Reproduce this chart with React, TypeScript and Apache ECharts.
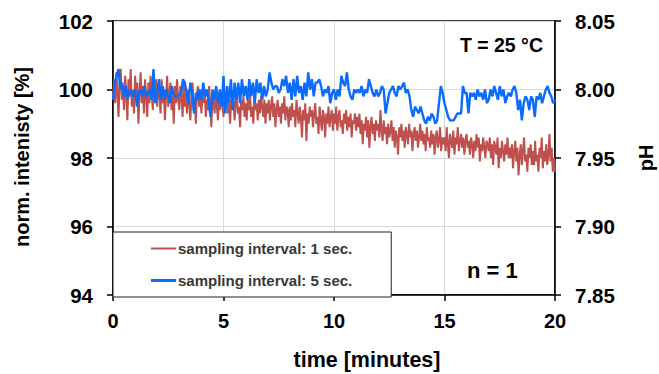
import React, { useEffect, useRef } from "react";
import * as echarts from "echarts";

// time axis (minutes)
const xTicks = [0, 5, 10, 15, 20];
const leftTicks = [94, 96, 98, 100, 102];
const rightTicks = [7.85, 7.9, 7.95, 8.0, 8.05];

// sampling interval 1 sec. (plotted every 3 s), normalized intensity [%]
const redStepSec = 3;
const redValues = [
  99.8, 100.3, 99.6, 100.5, 99.9, 99.2, 100.2, 100.6, 99.7, 100.1, 99.4, 100.4, 99.9, 99.1, 100.3, 99.8, 100.6, 99.5, 100.0, 99.3,
  100.4, 99.7, 100.2, 99.0, 99.9, 100.5, 99.6, 100.1, 99.3, 100.3, 99.8, 99.2, 100.2, 99.6, 100.4, 99.9, 99.4, 100.1, 99.7, 100.3,
  99.5, 100.2, 99.9, 99.3, 100.3, 99.6, 100.0, 99.1, 99.8, 100.4, 99.5, 99.9, 100.2, 99.4, 99.8, 99.0, 100.1, 99.6, 100.3, 99.7,
  99.4, 100.1, 99.8, 99.2, 100.2, 99.5, 99.9, 99.3, 100.0, 99.6, 99.1, 99.8, 100.2, 99.4, 99.7, 99.0, 99.9, 100.1, 99.5, 99.8,
  99.3, 99.9, 99.6, 100.0, 99.2, 99.7, 99.4, 100.1, 99.5, 98.9, 99.8, 99.6, 99.3, 100.0, 99.5, 99.1, 99.8, 99.4, 99.9, 99.6,
  99.2, 99.8, 99.5, 99.9, 99.3, 99.6, 99.0, 99.7, 99.4, 99.8, 99.1, 99.6, 99.9, 99.3, 99.5, 98.9, 99.7, 99.4, 99.8, 99.2,
  99.6, 99.1, 99.7, 99.4, 99.9, 99.2, 99.5, 99.0, 99.8, 99.4, 99.6, 99.1, 99.7, 99.3, 99.8, 99.5, 99.2, 99.7, 99.0, 99.6,
  99.3, 99.7, 99.1, 99.5, 99.8, 99.2, 99.6, 98.9, 99.4, 99.7, 99.2, 99.5, 99.0, 99.6, 99.3, 99.8, 99.1, 99.5, 99.4, 98.9,
  99.5, 99.1, 99.6, 99.2, 99.4, 98.9, 99.7, 99.3, 99.0, 99.5, 99.2, 98.6, 99.4, 99.1, 99.6, 98.5, 99.3, 99.0, 99.5, 99.2,
  99.4, 98.9, 99.3, 99.6, 99.0, 99.2, 98.7, 99.5, 99.1, 98.8, 99.4, 99.2, 98.6, 99.3, 99.0, 99.5, 98.9, 99.2, 99.4, 98.8,
  99.3, 99.0, 99.5, 98.8, 99.2, 99.4, 98.9, 99.1, 98.7, 99.3, 99.0, 99.4, 98.8, 99.2, 98.9, 99.3, 98.6, 99.1, 99.0, 99.3,
  98.8, 99.2, 98.9, 99.3, 98.7, 99.1, 98.4, 99.0, 98.8, 99.2, 98.6, 99.1, 98.3, 98.9, 99.2, 98.7, 99.0, 98.5, 99.1, 98.8,
  99.0, 98.6, 99.4, 98.8, 98.5, 99.1, 98.7, 98.9, 98.4, 99.0, 98.6, 98.8, 99.1, 98.5, 98.9, 98.3, 98.8, 98.6, 98.1, 98.9,
  98.6, 99.0, 98.5, 98.8, 98.3, 98.9, 98.7, 98.4, 99.0, 98.6, 98.8, 98.2, 98.7, 98.9, 98.5, 98.8, 98.3, 98.6, 99.0, 98.5,
  98.8, 98.4, 98.7, 98.2, 98.9, 98.5, 98.6, 98.3, 98.8, 98.4, 98.7, 98.1, 98.6, 98.8, 98.3, 98.5, 98.9, 98.2, 98.6, 98.4,
  98.6, 98.2, 98.9, 98.4, 98.0, 98.7, 98.5, 98.3, 98.8, 98.1, 98.6, 98.4, 98.9, 98.2, 98.5, 98.7, 98.3, 98.6, 98.1, 98.5,
  98.7, 98.3, 98.5, 98.1, 98.6, 98.4, 98.0, 98.5, 98.2, 98.7, 98.3, 98.6, 97.9, 98.4, 98.2, 98.6, 98.3, 98.0, 98.5, 98.4,
  98.2, 98.6, 98.0, 98.4, 97.8, 98.5, 98.3, 98.1, 98.6, 97.7, 98.3, 98.0, 98.5, 98.2, 97.9, 98.4, 98.1, 98.6, 98.0, 98.3,
  98.0, 98.4, 97.7, 98.2, 98.5, 97.9, 98.3, 97.5, 98.1, 98.4, 97.8, 98.2, 98.6, 97.9, 98.1, 97.6, 98.3, 98.0, 98.4, 97.8,
  98.2, 97.8, 98.5, 97.9, 98.1, 97.6, 98.3, 98.0, 98.6, 97.7, 98.2, 97.9, 98.4, 97.8, 98.1, 98.7, 97.9, 98.3, 97.6, 98.0,
  97.6,
];

// sampling interval 5 sec., normalized intensity [%]
const blueStepSec = 5;
const blueValues = [
  99.7, 100.2, 100.4, 100.6, 100.0, 100.2, 99.8, 100.1, 99.7, 100.0, 99.9, 99.8,
  100.0, 99.5, 99.9, 100.0, 99.8, 100.1, 99.8, 99.9, 100.0, 99.7, 100.6, 99.6,
  99.9, 100.3, 99.7, 100.1, 99.7, 100.0, 99.8, 99.6, 100.1, 99.8, 99.8, 99.8,
  99.85, 99.9, 100.3, 100.2, 99.9, 99.6, 100.2, 99.9, 99.3, 99.9, 99.7, 100.0,
  99.7, 100.2, 99.8, 100.0, 99.6, 99.2, 100.0, 99.7, 100.1, 99.6, 100.0, 99.5,
  100.4, 99.3, 100.1, 99.6, 100.3, 99.4, 100.2, 99.7, 100.2, 99.6, 100.3, 99.8,
  100.1, 99.7, 100.3, 99.8, 100.2, 99.6, 100.3, 99.9, 100.2, 99.7, 100.1, 99.8,
  100.0, 100.5, 100.2, 100.0, 100.1, 100.1, 99.9, 100.0, 100.3, 100.1, 100.4, 99.9,
  100.2, 99.7, 100.3, 99.8, 100.4, 99.9, 100.1, 99.7, 100.2, 99.8, 100.5, 100.0,
  100.3, 99.8, 100.2, 100.2, 100.3, 100.1, 99.8, 100.0, 99.9, 100.1, 99.6, 99.9,
  100.0, 99.7, 100.0, 99.8, 100.4, 100.2, 100.1, 100.5, 100.0, 99.8, 99.7, 100.0,
  99.9, 100.0, 99.9, 100.1, 99.8, 100.0, 99.9, 100.3, 100.1, 99.9, 99.8, 100.0,
  99.8, 99.9, 100.1, 100.0, 99.3, 99.6, 99.9, 100.0, 100.1, 99.9, 99.8, 100.1,
  100.0, 100.1, 100.2, 99.9, 100.0, 99.8, 99.4, 99.2, 99.5, 99.4, 99.3, 99.5,
  99.3, 99.1, 99.0, 99.2, 99.1, 99.3, 99.2, 99.0, 99.1, 99.6, 100.1, 99.9,
  99.6, 99.4, 99.2, 99.1, 99.1, 99.1, 99.2, 99.3, 99.3, 99.3, 100.1, 99.9,
  99.9, 99.3, 99.9, 99.8, 99.9, 99.7, 100.0, 99.8, 99.9, 99.7, 100.0, 99.6,
  99.7, 100.0, 99.8, 100.1, 99.9, 99.7, 100.1, 99.8, 100.0, 99.6, 99.8, 99.9,
  99.8, 100.0, 100.1, 99.9, 99.4, 99.7, 99.1, 99.6, 99.8, 99.7, 99.4, 99.8,
  99.7, 99.2, 99.8, 99.7, 99.9, 99.6, 99.8, 100.0, 100.1, 99.9, 99.8, 99.6,
  99.7,
];

const seriesNames = ["sampling interval: 1 sec.", "sampling interval: 5 sec."];
const seriesColors = ["#c0504d", "#0a6cff"];

const FONT = "'Liberation Sans', Arial, Helvetica, sans-serif";

export default function App() {
  const ref = useRef<HTMLDivElement>(null);

  useEffect(() => {
    if (!ref.current) return;
    const chart = echarts.init(ref.current, undefined, { renderer: "svg" });

    const redData = redValues.map((v, i) => [(i * redStepSec) / 60, v]);
    const blueData = blueValues.map((v, i) => [(i * blueStepSec) / 60, v]);

    const option: any = {
      animation: false,
      backgroundColor: "#ffffff",
      textStyle: { fontFamily: FONT },
      grid: {
        left: 113,
        right: 104,
        top: 21,
        bottom: 79,
        show: true,
        borderColor: "#000",
        borderWidth: 1.5,
        backgroundColor: "transparent",
      },
      legend: {
        left: 113,
        top: 232,
        orient: "vertical",
        backgroundColor: "#fff",
        borderColor: "#222",
        borderWidth: 1,
        borderRadius: 0,
        padding: [9, 39, 9, 38],
        itemWidth: 25,
        itemHeight: 14,
        itemGap: 17,
        data: [
          { name: seriesNames[0], icon: "path://M0,0H25V2H0Z" },
          { name: seriesNames[1], icon: "path://M0,0H25V3H0Z" },
        ],
        textStyle: {
          fontFamily: FONT,
          fontSize: 15,
          fontWeight: "bold",
          color: "#383838",
          padding: [0, 0, 0, -3],
        },
      },
      xAxis: {
        type: "value",
        min: xTicks[0],
        max: xTicks[xTicks.length - 1],
        interval: 5,
        axisLine: { show: true, lineStyle: { color: "#000", width: 1.5 } },
        axisTick: { show: true, inside: false, length: 6, lineStyle: { color: "#000", width: 1.5 } },
        axisLabel: {
          margin: 16,
          fontFamily: FONT,
          fontSize: 20,
          fontWeight: "bold",
          color: "#000",
        },
        splitLine: { show: true, lineStyle: { color: "#d9d9d9", width: 1 } },
      },
      yAxis: [
        {
          type: "value",
          min: leftTicks[0],
          max: leftTicks[leftTicks.length - 1],
          interval: 2,
          position: "left",
          axisLine: { show: true, lineStyle: { color: "#000", width: 1.5 } },
          axisTick: { show: true, inside: false, length: 6, lineStyle: { color: "#000", width: 1.5 } },
          axisLabel: {
            margin: 20,
            fontFamily: FONT,
            fontSize: 20.5,
            fontWeight: "bold",
            color: "#000",
          },
          splitLine: { show: true, lineStyle: { color: "#d9d9d9", width: 1 } },
        },
        {
          type: "value",
          min: rightTicks[0],
          max: rightTicks[rightTicks.length - 1],
          interval: 0.05,
          position: "right",
          axisLine: { show: true, lineStyle: { color: "#000", width: 1.5 } },
          axisTick: { show: true, inside: false, length: 6, lineStyle: { color: "#000", width: 1.5 } },
          axisLabel: {
            margin: 20,
            fontFamily: FONT,
            fontSize: 20.5,
            fontWeight: "bold",
            color: "#000",
            formatter: (v: number) => v.toFixed(2),
          },
          splitLine: { show: false },
        },
      ],
      series: [
        {
          name: seriesNames[0],
          type: "line",
          yAxisIndex: 0,
          data: redData,
          showSymbol: false,
          symbol: "none",
          lineStyle: { color: seriesColors[0], width: 2 },
          itemStyle: { color: seriesColors[0] },
          z: 2,
        },
        {
          name: seriesNames[1],
          type: "line",
          yAxisIndex: 0,
          data: blueData,
          showSymbol: false,
          symbol: "none",
          lineStyle: { color: seriesColors[1], width: 2.4 },
          itemStyle: { color: seriesColors[1] },
          z: 3,
        },
      ],
      graphic: [
        {
          type: "text",
          x: 367,
          y: 360,
          style: {
            text: "time [minutes]",
            fontFamily: FONT,
            fontSize: 21.5,
            fontWeight: "bold",
            fill: "#000",
            textAlign: "center",
            textVerticalAlign: "middle",
          },
        },
        {
          type: "text",
          x: 22,
          y: 157,
          rotation: Math.PI / 2,
          style: {
            text: "norm. intenisty [%]",
            fontFamily: FONT,
            fontSize: 20,
            fontWeight: "bold",
            fill: "#000",
            textAlign: "center",
            textVerticalAlign: "middle",
          },
        },
        {
          type: "text",
          x: 646,
          y: 158,
          rotation: Math.PI / 2,
          style: {
            text: "pH",
            fontFamily: FONT,
            fontSize: 20,
            fontWeight: "bold",
            fill: "#000",
            textAlign: "center",
            textVerticalAlign: "middle",
          },
        },
        {
          type: "text",
          x: 543,
          y: 45,
          z: 10,
          style: {
            text: "T = 25 °C",
            fontFamily: FONT,
            fontSize: 19.5,
            fontWeight: "bold",
            fill: "#000",
            textAlign: "right",
            textVerticalAlign: "middle",
          },
        },
        {
          type: "text",
          x: 467,
          y: 270,
          z: 10,
          style: {
            text: "n = 1",
            fontFamily: FONT,
            fontSize: 22,
            fontWeight: "bold",
            fill: "#000",
            textAlign: "left",
            textVerticalAlign: "middle",
          },
        },
      ],
    };

    chart.setOption(option);
    return () => chart.dispose();
  }, []);

  return (
    <div
      ref={ref}
      style={{ position: "fixed", left: 0, top: 0, width: 659, height: 374 }}
    />
  );
}
